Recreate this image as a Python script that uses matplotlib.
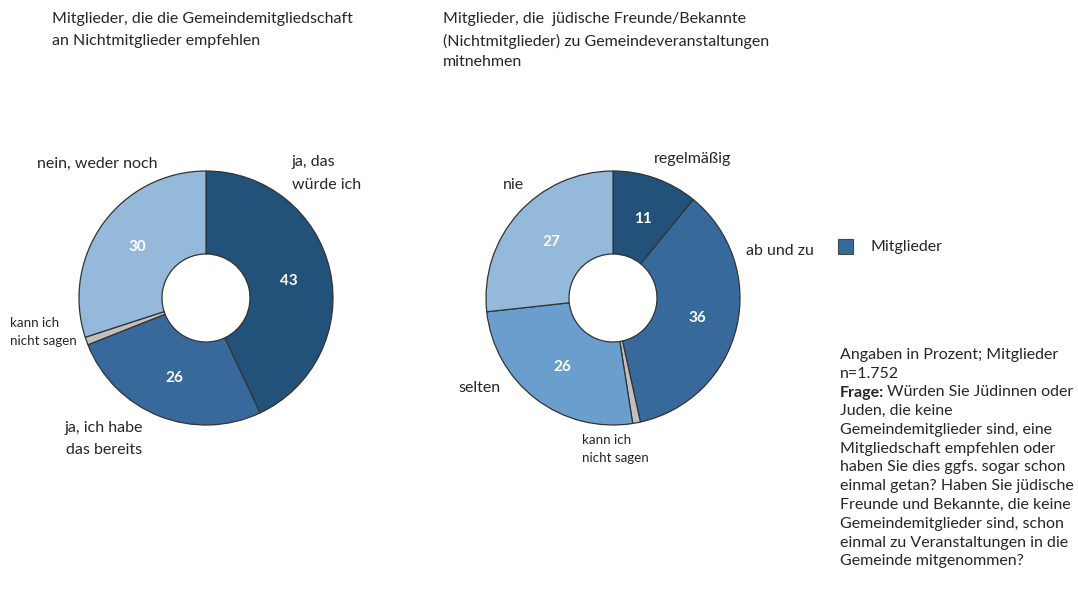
import matplotlib
matplotlib.use("Agg")
import matplotlib.pyplot as plt
from matplotlib.patches import Rectangle

plt.rcParams['font.family'] = ['Lato', 'DejaVu Sans']

W, H = 1078, 592

# Data
labels1 = ["ja, das\nwürde ich", "ja, ich habe\ndas bereits", "kann ich\nnicht sagen", "nein, weder noch"]
values1 = [43, 26, 1, 30]
labels2 = ["regelmäßig", "ab und zu", "kann ich\nnicht sagen", "selten", "nie"]
values2 = [11, 36, 1, 26, 27]

title1 = "Mitglieder, die die Gemeindemitgliedschaft\nan Nichtmitglieder empfehlen"
title2 = "Mitglieder, die  jüdische Freunde/Bekannte\n(Nichtmitglieder) zu Gemeindeveranstaltungen\nmitnehmen"
legend_label = "Mitglieder"
note_lines = ["Angaben in Prozent; Mitglieder", "n=1.752", None,
              "Juden, die keine", "Gemeindemitglieder sind, eine",
              "Mitgliedschaft empfehlen oder", "haben Sie dies ggfs. sogar schon",
              "einmal getan? Haben Sie jüdische", "Freunde und Bekannte, die keine",
              "Gemeindemitglieder sind, schon", "einmal zu Veranstaltungen in die",
              "Gemeinde mitgenommen?"]

c_dark = "#22517a"
c_med = "#376a9b"
c_mid = "#6a9fcd"
c_light = "#94b9da"
c_grey = "#c0c0c0"
colors1 = [c_dark, c_med, c_grey, c_light]
colors2 = [c_dark, c_med, c_grey, c_mid, c_light]

fig = plt.figure(figsize=(W / 100, H / 100), dpi=100)
ax = fig.add_axes([0, 0, 1, 1])
ax.set_xlim(0, W)
ax.set_ylim(0, H)
ax.set_aspect('equal')
ax.axis('off')

def Y(y):
    return H - y

R = 127
ring = 83 / 127
txtc = "#262626"

def donut(values, colors, cx, cy):
    wedges, _ = ax.pie(values, colors=colors, startangle=90, counterclock=False,
                       center=(cx, Y(cy)), radius=R, normalize=True,
                       wedgeprops=dict(width=R * ring, edgecolor="#333333", linewidth=0.9))
    return wedges

donut(values1, colors1, 206, 298)
donut(values2, colors2, 613, 298)
ax.set_xlim(0, W)
ax.set_ylim(0, H)

# value labels
vfs = 11
vals1_pos = [(289, 281), (174, 378), None, (137, 247)]
for v, p in zip(values1, vals1_pos):
    if p:
        ax.text(p[0], Y(p[1]), str(v), color="white", fontsize=vfs, fontweight="bold",
                ha="center", va="center")
vals2_pos = [(643, 219), (697, 318), None, (562, 367), (551, 242)]
for v, p in zip(values2, vals2_pos):
    if p:
        ax.text(p[0], Y(p[1]), str(v), color="white", fontsize=vfs, fontweight="bold",
                ha="center", va="center")

fs = 11.5
sfs = 9.6

def lines(text, x, ys, size, ha="left"):
    for s, yy in zip(text.split("\n"), ys):
        ax.text(x, Y(yy), s, fontsize=size, color=txtc, ha=ha, va="center")

# titles
lines(title1, 52, [19, 41], fs)
lines(title2, 443, [19, 41, 62], fs)

# category labels chart 1
lines(labels1[0], 292, [162, 185], fs)
lines(labels1[1], 104, [428, 450], fs, ha="center")
lines(labels1[2], 10, [323, 341], sfs)
lines(labels1[3], 37, [164], fs)

# category labels chart 2
lines(labels2[0], 654, [159], fs)
lines(labels2[1], 746, [251], fs)
lines(labels2[2], 582, [440, 458], sfs)
lines(labels2[3], 458, [388], fs)
lines(labels2[4], 503, [185], fs)

# legend
ax.add_patch(Rectangle((838, Y(254)), 15, 15, facecolor=c_med, edgecolor="#444444", linewidth=0.8))
ax.text(870, Y(247), legend_label, fontsize=fs, color=txtc, ha="left", va="center")

# note
nfs = 11.5
fig.canvas.draw()
renderer = fig.canvas.get_renderer()
x0 = 840
y_top = 355
step = 18.75
for i, line in enumerate(note_lines):
    yy = Y(y_top + i * step)
    if line is None:
        t = ax.text(x0, yy, "Frage:", fontsize=nfs, color=txtc, fontweight="bold",
                    ha="left", va="center")
        bb = t.get_window_extent(renderer=renderer)
        ax.text(bb.x1 + 3, yy, "Würden Sie Jüdinnen oder", fontsize=nfs, color=txtc,
                ha="left", va="center")
    else:
        ax.text(x0, yy, line, fontsize=nfs, color=txtc, ha="left", va="center")

fig.savefig("out.png", dpi=100)
